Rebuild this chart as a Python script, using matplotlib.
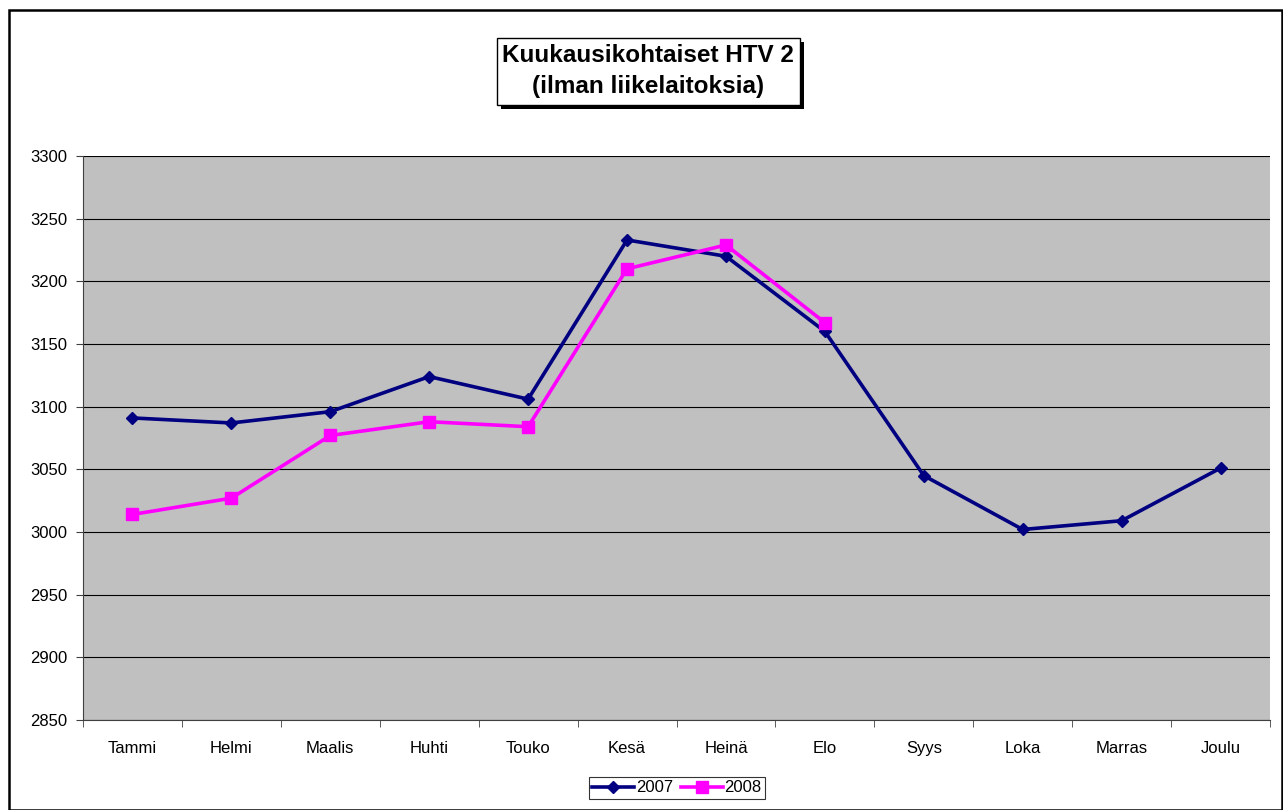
import matplotlib
matplotlib.use("Agg")
import matplotlib.pyplot as plt
from matplotlib.patches import Rectangle

months = ["Tammi", "Helmi", "Maalis", "Huhti", "Touko", "Kesä",
          "Heinä", "Elo", "Syys", "Loka", "Marras", "Joulu"]
htv_2007 = [3091, 3087, 3096, 3124, 3106, 3233, 3220, 3160, 3045, 3002, 3009, 3051]
htv_2008 = [3014, 3027, 3077, 3088, 3084, 3210, 3229, 3167]

plt.rcParams['font.family'] = ['Liberation Sans', 'DejaVu Sans']

W, H = 1283, 810
fig = plt.figure(figsize=(W / 100, H / 100), dpi=100)

# outer frame
fig.patches.append(Rectangle((9 / W, 0), 1 - 9 / W - 1 / W, 1 - 10 / H,
                             transform=fig.transFigure, fill=False,
                             edgecolor='black', linewidth=1.8))

ax = fig.add_axes([83 / W, 1 - 720 / H, (1270 - 83) / W, (720 - 156) / H])
ax.set_facecolor('#c0c0c0')

x1 = list(range(len(htv_2007)))
x2 = list(range(len(htv_2008)))
ax.plot(x1, htv_2007, color='#000080', linewidth=2.6, marker='D',
        markersize=6.5, label='2007', zorder=3)
ax.plot(x2, htv_2008, color='#ff00ff', linewidth=2.6, marker='s',
        markersize=8, label='2008', zorder=4)

ax.set_xlim(-0.5, len(months) - 0.5)
ax.set_ylim(2850, 3300)
ax.set_yticks(range(2850, 3301, 50))
ax.yaxis.grid(True, color='black', linewidth=0.8)
ax.set_axisbelow(True)

ax.set_xticks(x1)
ax.set_xticklabels(months)
ax.set_xticks([i - 0.5 for i in range(len(months) + 1)], minor=True)
ax.tick_params(axis='x', which='major', length=0, pad=15, labelsize=12)
ax.tick_params(axis='x', which='minor', length=5, direction='out', color='#404040')
ax.tick_params(axis='y', length=5, direction='out', pad=6, labelsize=12,
               color='#404040')

for side in ['top', 'right']:
    ax.spines[side].set_visible(False)
ax.spines['left'].set_color('#404040')
ax.spines['bottom'].set_color('#404040')

# title box with shadow
fig.patches.append(Rectangle((501 / W, 1 - 109 / H), 303 / W, 67 / H,
                             transform=fig.transFigure, facecolor='black',
                             edgecolor='none', zorder=1))
fig.patches.append(Rectangle((497 / W, 1 - 105 / H), 303 / W, 67 / H,
                             transform=fig.transFigure, facecolor='white',
                             edgecolor='black', linewidth=1, zorder=2))
fig.text(648 / W, 1 - 71 / H, "Kuukausikohtaiset HTV 2\n(ilman liikelaitoksia)",
         ha='center', va='center', fontsize=17.5, fontweight='bold',
         linespacing=1.4, zorder=3)

leg = fig.legend(loc='center', bbox_to_anchor=(677 / W, 1 - 788 / H), ncol=2,
                 frameon=True, fancybox=False, fontsize=12,
                 handlelength=2.5, columnspacing=0.5, handletextpad=0.1,
                 borderpad=0.2, borderaxespad=0)
leg.get_frame().set_edgecolor('black')
leg.get_frame().set_linewidth(0.8)

fig.savefig('out.png', dpi=100)
